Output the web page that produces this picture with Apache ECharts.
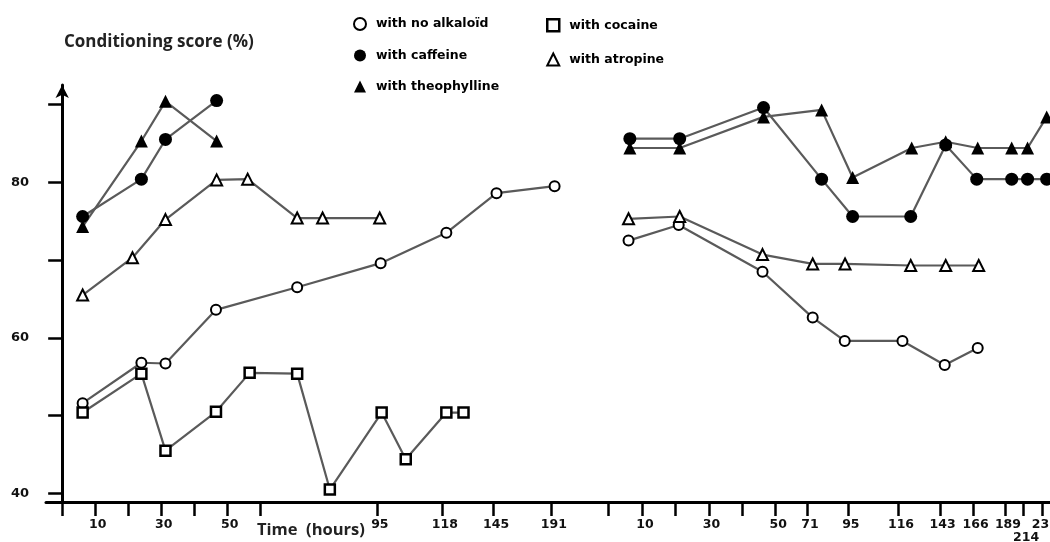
<!DOCTYPE html>
<html>
<head>
<meta charset="utf-8">
<script src="https://cdn.jsdelivr.net/npm/echarts@6/dist/echarts.min.js"></script>
<style>
  html, body { margin: 0; padding: 0; background: #fff; }
  #chart { width: 1050px; height: 542px; }
</style>
</head>
<body>
<div id="chart"></div>
<script>
// positions on the broken time axis (same units as tickPos)
const tickPos = [0, 10, 20, 30, 40, 50, 60, 95.5, 115.2, 130.7, 148.2,
  165.5, 175.8, 185.8, 196, 206, 216.2, 225.8, 238.2, 253.4, 266, 276, 285.8, 291.3, 297]
const tickLabels = ['', '10', '', '30', '', '50', '', '95', '118', '145', '191',
  '', '10', '', '30', '', '50', '71', '95', '116', '143', '166', '189', '214', '237']
// labels printed on a second, lower row in the figure
const lowLabels = ['214']
const yTicks = [40, 50, 60, 70, 80, 90]
const yLabels = [40, 60, 80]

// first experiment (left part)
const noAlkX1 = [6.2, 24, 31.3, 46.6, 71.2, 96.5, 116.4, 131.6, 149.2]
const noAlkY1 = [51.6, 56.8, 56.7, 63.6, 66.5, 69.6, 73.5, 78.6, 79.5]
const caffX1 = [6.2, 24, 31.3, 46.8]
const caffY1 = [75.6, 80.4, 85.5, 90.5]
const theoX1 = [6.2, 24, 31.3, 46.8]
const theoY1 = [74.3, 85.3, 90.4, 85.3]
const cocX1 = [6.2, 24, 31.3, 46.6, 56.8, 71.2, 81.1, 96.8, 104.1, 116.4, 121.6]
const cocY1 = [50.4, 55.4, 45.5, 50.5, 55.5, 55.4, 40.5, 50.4, 44.4, 50.4, 50.4]
const atroX1 = [6.2, 21.3, 31.3, 46.8, 56.2, 71.2, 78.9, 96.2]
const atroY1 = [65.5, 70.3, 75.2, 80.3, 80.4, 75.4, 75.4, 75.4]

// second experiment (right part)
const noAlkX2 = [171.6, 186.8, 212.2, 227.4, 237.1, 254.6, 267.4, 277.4]
const noAlkY2 = [72.5, 74.5, 68.5, 62.6, 59.6, 59.6, 56.5, 58.7]
const caffX2 = [172, 187.1, 212.5, 230.1, 239.5, 257.1, 267.7, 277.1, 287.7, 292.5, 298.3]
const caffY2 = [85.6, 85.6, 89.6, 80.4, 75.6, 75.6, 84.8, 80.4, 80.4, 80.4, 80.4]
const theoX2 = [172, 187.1, 212.5, 230.1, 239.5, 257.4, 267.7, 277.4, 287.7, 292.5, 298.3]
const theoY2 = [84.4, 84.4, 88.4, 89.3, 80.6, 84.4, 85.2, 84.4, 84.4, 84.4, 88.4]
const atroX2 = [171.6, 187.1, 212.2, 227.4, 237.2, 257.1, 267.7, 277.7]
const atroY2 = [75.3, 75.6, 70.7, 69.5, 69.5, 69.3, 69.3, 69.3]

const LINE = '#5a5a5a'
const labelFont = 'DejaVu Sans'

function pairs(xs, ys) {
  return xs.map((x, i) => [x, ys[i]])
}

function tickLabel(v) {
  const i = tickPos.findIndex(p => Math.abs(p - v) < 1e-6)
  return i >= 0 ? tickLabels[i] : ''
}

const styles = {
  'with no alkaloïd': { symbol: 'circle', size: 10, item: { color: '#fff', borderColor: '#000', borderWidth: 2 } },
  'with caffeine': { symbol: 'circle', size: 13, item: { color: '#000', borderColor: '#000', borderWidth: 0 } },
  'with theophylline': { symbol: 'triangle', size: 13, item: { color: '#000', borderColor: '#000', borderWidth: 0 } },
  'with cocaine': { symbol: 'rect', size: 10, item: { color: '#fff', borderColor: '#000', borderWidth: 2.5 } },
  'with atropine': { symbol: 'triangle', size: 11, item: { color: '#fff', borderColor: '#000', borderWidth: 2 } }
}

function makeSeries(name, xs, ys) {
  const s = styles[name]
  return {
    name: name,
    type: 'line',
    data: pairs(xs, ys),
    symbol: s.symbol,
    symbolSize: s.size,
    itemStyle: s.item,
    lineStyle: { color: LINE, width: 2.2 },
    emphasis: { disabled: true },
    animation: false
  }
}

const seriesData = [
  makeSeries('with no alkaloïd', noAlkX1, noAlkY1),
  makeSeries('with cocaine', cocX1, cocY1),
  makeSeries('with atropine', atroX1, atroY1),
  makeSeries('with caffeine', caffX1, caffY1),
  makeSeries('with theophylline', theoX1, theoY1),
  makeSeries('with no alkaloïd', noAlkX2, noAlkY2),
  makeSeries('with atropine', atroX2, atroY2),
  makeSeries('with caffeine', caffX2, caffY2),
  makeSeries('with theophylline', theoX2, theoY2)
]

function legendItem(name) {
  const s = styles[name]
  return { name: name, icon: s.symbol, itemStyle: s.item }
}

const legendText = {
  fontFamily: labelFont, fontWeight: 'bold', fontSize: 12.5, color: '#000',
  lineHeight: 13, padding: [0, 0, 0, 5]
}

const xLabelStyle = {
  padding: [0, 0, 0, 5],
  fontFamily: labelFont,
  fontWeight: 'bold',
  fontSize: 12.5,
  color: '#111'
}

const chart = echarts.init(document.getElementById('chart'), null, { renderer: 'canvas' })

const option = {
  animation: false,
  backgroundColor: '#fff',
  grid: { left: 46, right: 0, top: 85, bottom: 40, outerBoundsMode: 'none' },
  legend: [
    {
      left: 348, top: 12, orient: 'vertical', itemGap: 18,
      itemWidth: 12, itemHeight: 12, selectedMode: false,
      textStyle: legendText,
      data: ['with no alkaloïd', 'with caffeine', 'with theophylline'].map(legendItem)
    },
    {
      left: 541, top: 13, orient: 'vertical', itemGap: 20,
      itemWidth: 12, itemHeight: 12, selectedMode: false,
      textStyle: legendText,
      data: ['with cocaine', 'with atropine'].map(legendItem)
    }
  ],
  graphic: [
    {
      type: 'text', left: 64, top: 34,
      style: { text: 'Conditioning score (%)', font: 'bold 17px "Open Sans"', fill: '#222' }
    },
    {
      type: 'text', left: 257, top: 522,
      style: { text: 'Time  (hours)', font: 'bold 16.5px "Open Sans"', fill: '#222' }
    }
  ],
  xAxis: [
    {
      type: 'value',
      min: -4.9,
      max: 299.3,
      splitLine: { show: false },
      axisLine: { onZero: false, lineStyle: { color: '#000', width: 3 } },
      axisTick: { customValues: tickPos, length: 14, lineStyle: { color: '#000', width: 2.5 } },
      axisLabel: Object.assign({
        customValues: tickPos.filter((v, i) => tickLabels[i] !== '' && lowLabels.indexOf(tickLabels[i]) < 0),
        formatter: tickLabel,
        showMaxLabel: true,
        hideOverlap: false,
        margin: 16
      }, xLabelStyle)
    },
    {
      // same scale, only carries the lower-row tick label
      type: 'value',
      position: 'bottom',
      min: -4.9,
      max: 299.3,
      splitLine: { show: false },
      axisLine: { show: false, onZero: false },
      axisTick: { show: false },
      axisLabel: Object.assign({
        customValues: tickPos.filter((v, i) => lowLabels.indexOf(tickLabels[i]) >= 0),
        formatter: tickLabel,
        margin: 29
      }, xLabelStyle)
    }
  ],
  yAxis: {
    type: 'value',
    min: 38.9,
    max: 92.5,
    splitLine: { show: false },
    axisLine: {
      show: true,
      symbol: ['none', 'arrow'],
      symbolSize: [10, 13],
      lineStyle: { color: '#000', width: 3 }
    },
    axisTick: { show: true, customValues: yTicks, length: 14, lineStyle: { color: '#000', width: 2.5 } },
    axisLabel: {
      customValues: yLabels,
      margin: 17,
      fontFamily: labelFont,
      fontWeight: 'bold',
      fontSize: 13,
      color: '#111'
    }
  },
  series: seriesData
}

chart.setOption(option)
</script>
</body>
</html>
